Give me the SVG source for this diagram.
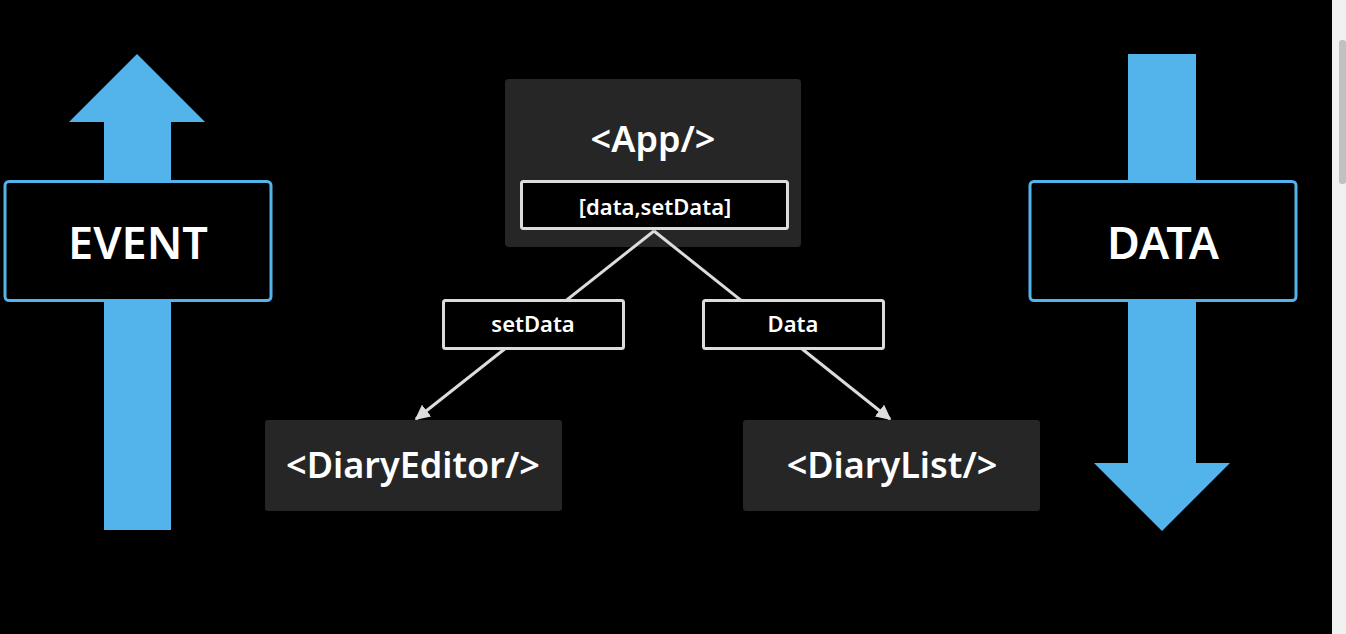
<svg xmlns="http://www.w3.org/2000/svg" width="1346" height="634" viewBox="0 0 1346 634">
<defs>
<style>
.t{font-family:"Noto Sans","Open Sans","DejaVu Sans",sans-serif;fill:#ffffff;text-anchor:middle;font-weight:600}
.comp{fill:#262626}
.lbl{fill:#000000;stroke:#dcdcdc;stroke-width:3}
.side{fill:#000000;stroke:#53b3eb;stroke-width:3}
.blue{fill:#53b3eb}
.conn{stroke:#dcdcdc;stroke-width:3;fill:none}
</style>
<marker id="ah" viewBox="0 0 10 10" refX="9" refY="5" markerWidth="5" markerHeight="5" orient="auto" markerUnits="strokeWidth">
<path d="M0,0 L10,5 L0,10 z" fill="#dcdcdc"/>
</marker>
</defs>
<rect x="0" y="0" width="1346" height="634" fill="#000000"/>
<g id="scrollbar">
<rect x="1332" y="0" width="14" height="634" fill="#f1f1f1"/>
<rect x="1339" y="40" width="7" height="144" rx="3" fill="#c1c1c1"/>
</g>
<g id="event-arrow">
<polygon class="blue" points="137,54 205,122 171,122 171,530 104,530 104,122 69,122"/>
<rect class="side" x="5" y="181.5" width="266" height="119" rx="4"/>
<text class="t" x="138" y="259" font-size="45">EVENT</text>
</g>
<g id="data-arrow">
<polygon class="blue" points="1128,54 1196,54 1196,463 1230,463 1162,531 1094,463 1128,463"/>
<rect class="side" x="1030" y="181.5" width="266" height="119" rx="4"/>
<text class="t" x="1163" y="259" font-size="45">DATA</text>
</g>
<g id="app">
<rect class="comp" x="505" y="79" width="296" height="168" rx="4"/>
<text class="t" x="653" y="152" font-size="36">&lt;App/&gt;</text>
</g>
<g id="connectors">
<line class="conn" x1="654" y1="231" x2="416" y2="419" marker-end="url(#ah)"/>
<line class="conn" x1="654" y1="231" x2="890" y2="419" marker-end="url(#ah)"/>
</g>
<g id="state">
<rect class="lbl" x="521.5" y="181.5" width="266" height="47" rx="2"/>
<text class="t" x="655" y="215" font-size="22">[data,setData]</text>
</g>
<g id="label-setData">
<rect class="lbl" x="443.5" y="300.5" width="180" height="48" rx="2"/>
<text class="t" x="533" y="332" font-size="22">setData</text>
</g>
<g id="label-Data">
<rect class="lbl" x="703.5" y="300.5" width="180" height="48" rx="2"/>
<text class="t" x="793" y="332" font-size="22">Data</text>
</g>
<g id="diaryEditor">
<rect class="comp" x="265" y="420" width="297" height="91" rx="3"/>
<text class="t" x="413" y="478" font-size="36">&lt;DiaryEditor/&gt;</text>
</g>
<g id="diaryList">
<rect class="comp" x="743" y="420" width="297" height="91" rx="3"/>
<text class="t" x="892" y="478" font-size="36">&lt;DiaryList/&gt;</text>
</g>
</svg>
